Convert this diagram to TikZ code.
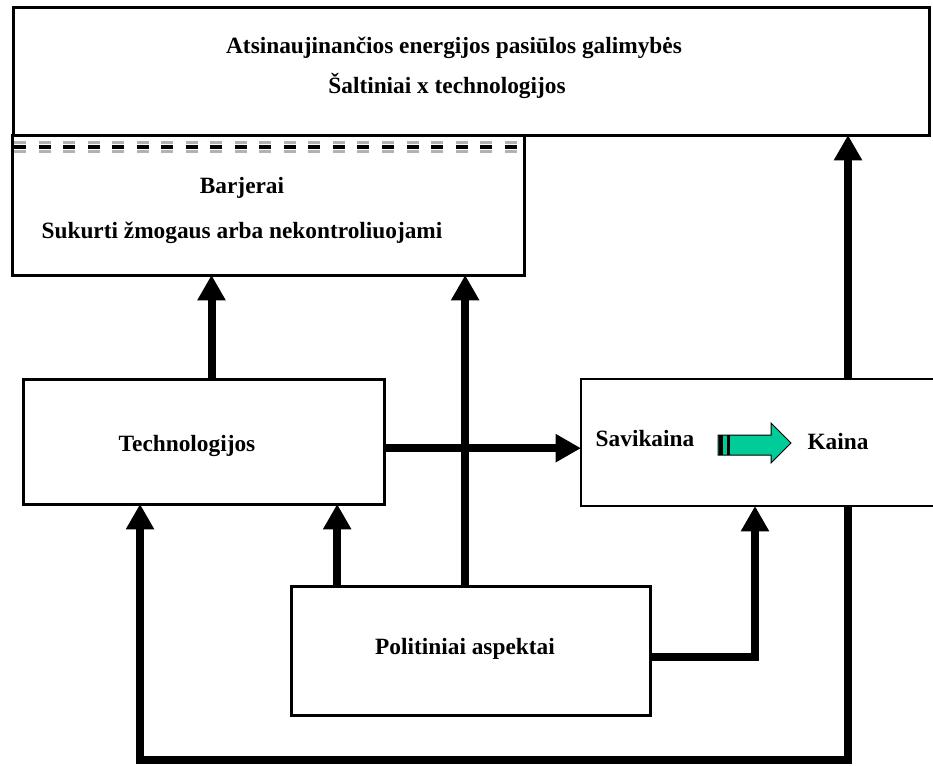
\documentclass[tikz,border=0pt]{standalone}
\usepackage{fontspec}
\setmainfont{Liberation Serif}
\usetikzlibrary{arrows.meta}
\definecolor{arrowgreen}{RGB}{0,204,153}
\tikzset{
  box/.style={draw, line width=2.25pt, inner sep=0pt, outer sep=0pt, anchor=north west},
  flow/.style={line width=6pt, -{Triangle[width=20pt,length=19pt]}},
  txt/.style={font=\fontsize{17.5}{21}\selectfont\bfseries, anchor=base, inner sep=0pt},
  dashrow/.style={dash pattern=on 9pt off 9.4pt}
}
\begin{document}
\begin{tikzpicture}[x=0.75pt,y=-0.75pt]
  \useasboundingbox (0,0) rectangle (933,765);
  \clip (0,0) rectangle (933,765);
  % boxes
  \node[box, minimum width=687pt, minimum height=96pt] (supply) at (13,7) {};
  \node[box, minimum width=384pt, minimum height=105pt] (barriers) at (12,135) {};
  \node[box, minimum width=270.75pt, minimum height=93.75pt] (tech) at (23,379) {};
  \node[box, line width=1.8pt, minimum width=273pt, minimum height=95.25pt] (cost) at (581,379) {};
  \node[box, minimum width=269.25pt, minimum height=96.75pt] (polit) at (291,586) {};
  % dashed barrier edge
  \draw[dashrow, gray!60, line width=2pt] (14,142.5) -- (524,142.5);
  \draw[dashrow, line width=3pt] (14,147) -- (524,147);
  \draw[dashrow, gray!60, line width=2pt] (14,151.5) -- (524,151.5);
  % texts
  \foreach \name/\x/\y/\txt in {title/454/53/Atsinaujinančios energijos pasiūlos galimybės,
      sources/447/93/Šaltiniai x technologijos,
      barrierhead/242/193/Barjerai,
      barriertext/242/238/Sukurti žmogaus arba nekontroliuojami,
      techlabel/187/451/Technologijos,
      costlabel/645/446/Savikaina,
      pricelabel/838/449/Kaina,
      politlabel/465/654/Politiniai aspektai}
    \node[txt] (\name) at (\x,\y) {\txt};
  % green arrow
  \filldraw[fill=arrowgreen, line width=0.75pt] (718,435) -- (771,435) -- (771,423) -- (791,443)
    -- (771,463) -- (771,455) -- (718,455) -- cycle;
  \fill (719,435) rectangle (722.5,455);
  \fill (726.5,435) rectangle (730,455);
  % connectors
  \draw[flow] ([xshift=6pt]tech.north) coordinate (a) -- (a |- barriers.south);
  \draw[flow] ([xshift=-4pt]polit.north) coordinate (b) -- (b |- barriers.south);
  \draw[flow] ([xshift=-100pt]polit.north) coordinate (c) -- (c |- tech.south);
  \draw[flow] ([yshift=-5pt]tech.east) coordinate (d) -- (d -| cost.west);
  \draw[flow] ([xshift=63.75pt]cost.north) coordinate (e) -- (e |- supply.south);
  \draw[flow] ([yshift=-5pt]polit.east) -| ([xshift=-6pt]cost.south);
  \coordinate (loopbase) at (465,760);
  \draw[flow] ([xshift=63.75pt]cost.south) |- (loopbase) -| ([xshift=-47.6pt]tech.south);
\end{tikzpicture}
\end{document}
